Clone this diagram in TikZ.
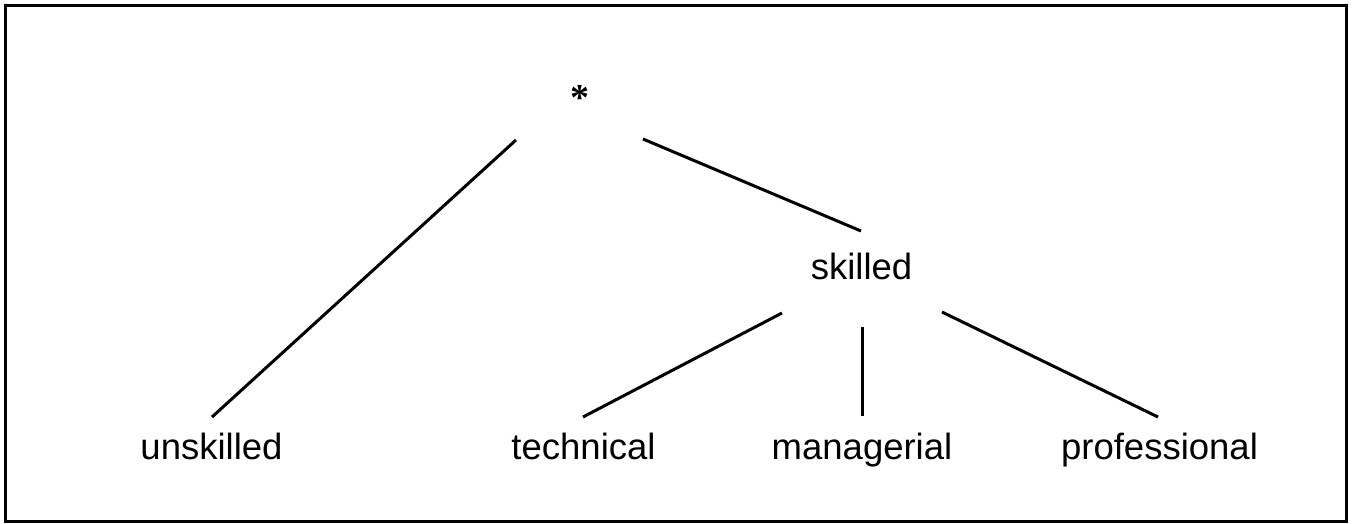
\documentclass[tikz,border=0pt]{standalone}
\usepackage{fontspec}
\setmainfont{Liberation Sans}
\newfontfamily\rootfont{Liberation Serif}
\begin{document}
\begin{tikzpicture}[x=1pt,y=-1pt,
  label/.style={inner sep=0pt,anchor=base,font=\fontsize{36.5}{44}\selectfont},
  branch/.style={line width=3pt,line cap=butt}]
\useasboundingbox (0,0) rectangle (1355,523);
% outer frame
\draw[line width=3pt] (5.5,5.5) rectangle (1346,521);

% tree labels
\node[inner sep=0pt,font=\rootfont\bfseries\fontsize{38}{44}\selectfont] (root) at (580,98) {*};
\node[label] (unsk)  at (211.5,459) {unskilled};
\node[label] (skill) at (861.5,279) {skilled};
\node[label] (tech)  at (583.5,459) {technical};
\node[label] (mgr)   at (862,459)   {managerial};
\node[label] (prof)  at (1159.5,459) {professional};

% branches
\draw[branch] ([shift={(-64,42)}]root.center) -- ([shift={(0.5,-42)}]unsk.base);
\draw[branch] ([shift={(63,41)}]root.center)  -- ([shift={(-0.5,-48)}]skill.base);
\draw[branch] ([shift={(-79.5,34)}]skill.base) -- ([shift={(-0.5,-42)}]tech.base);
\draw[branch] ([shift={(0.5,48)}]skill.base)   -- ([shift={(0,-43)}]mgr.base);
\draw[branch] ([shift={(80.5,33)}]skill.base)  -- ([shift={(-1.5,-42)}]prof.base);
\end{tikzpicture}
\end{document}
